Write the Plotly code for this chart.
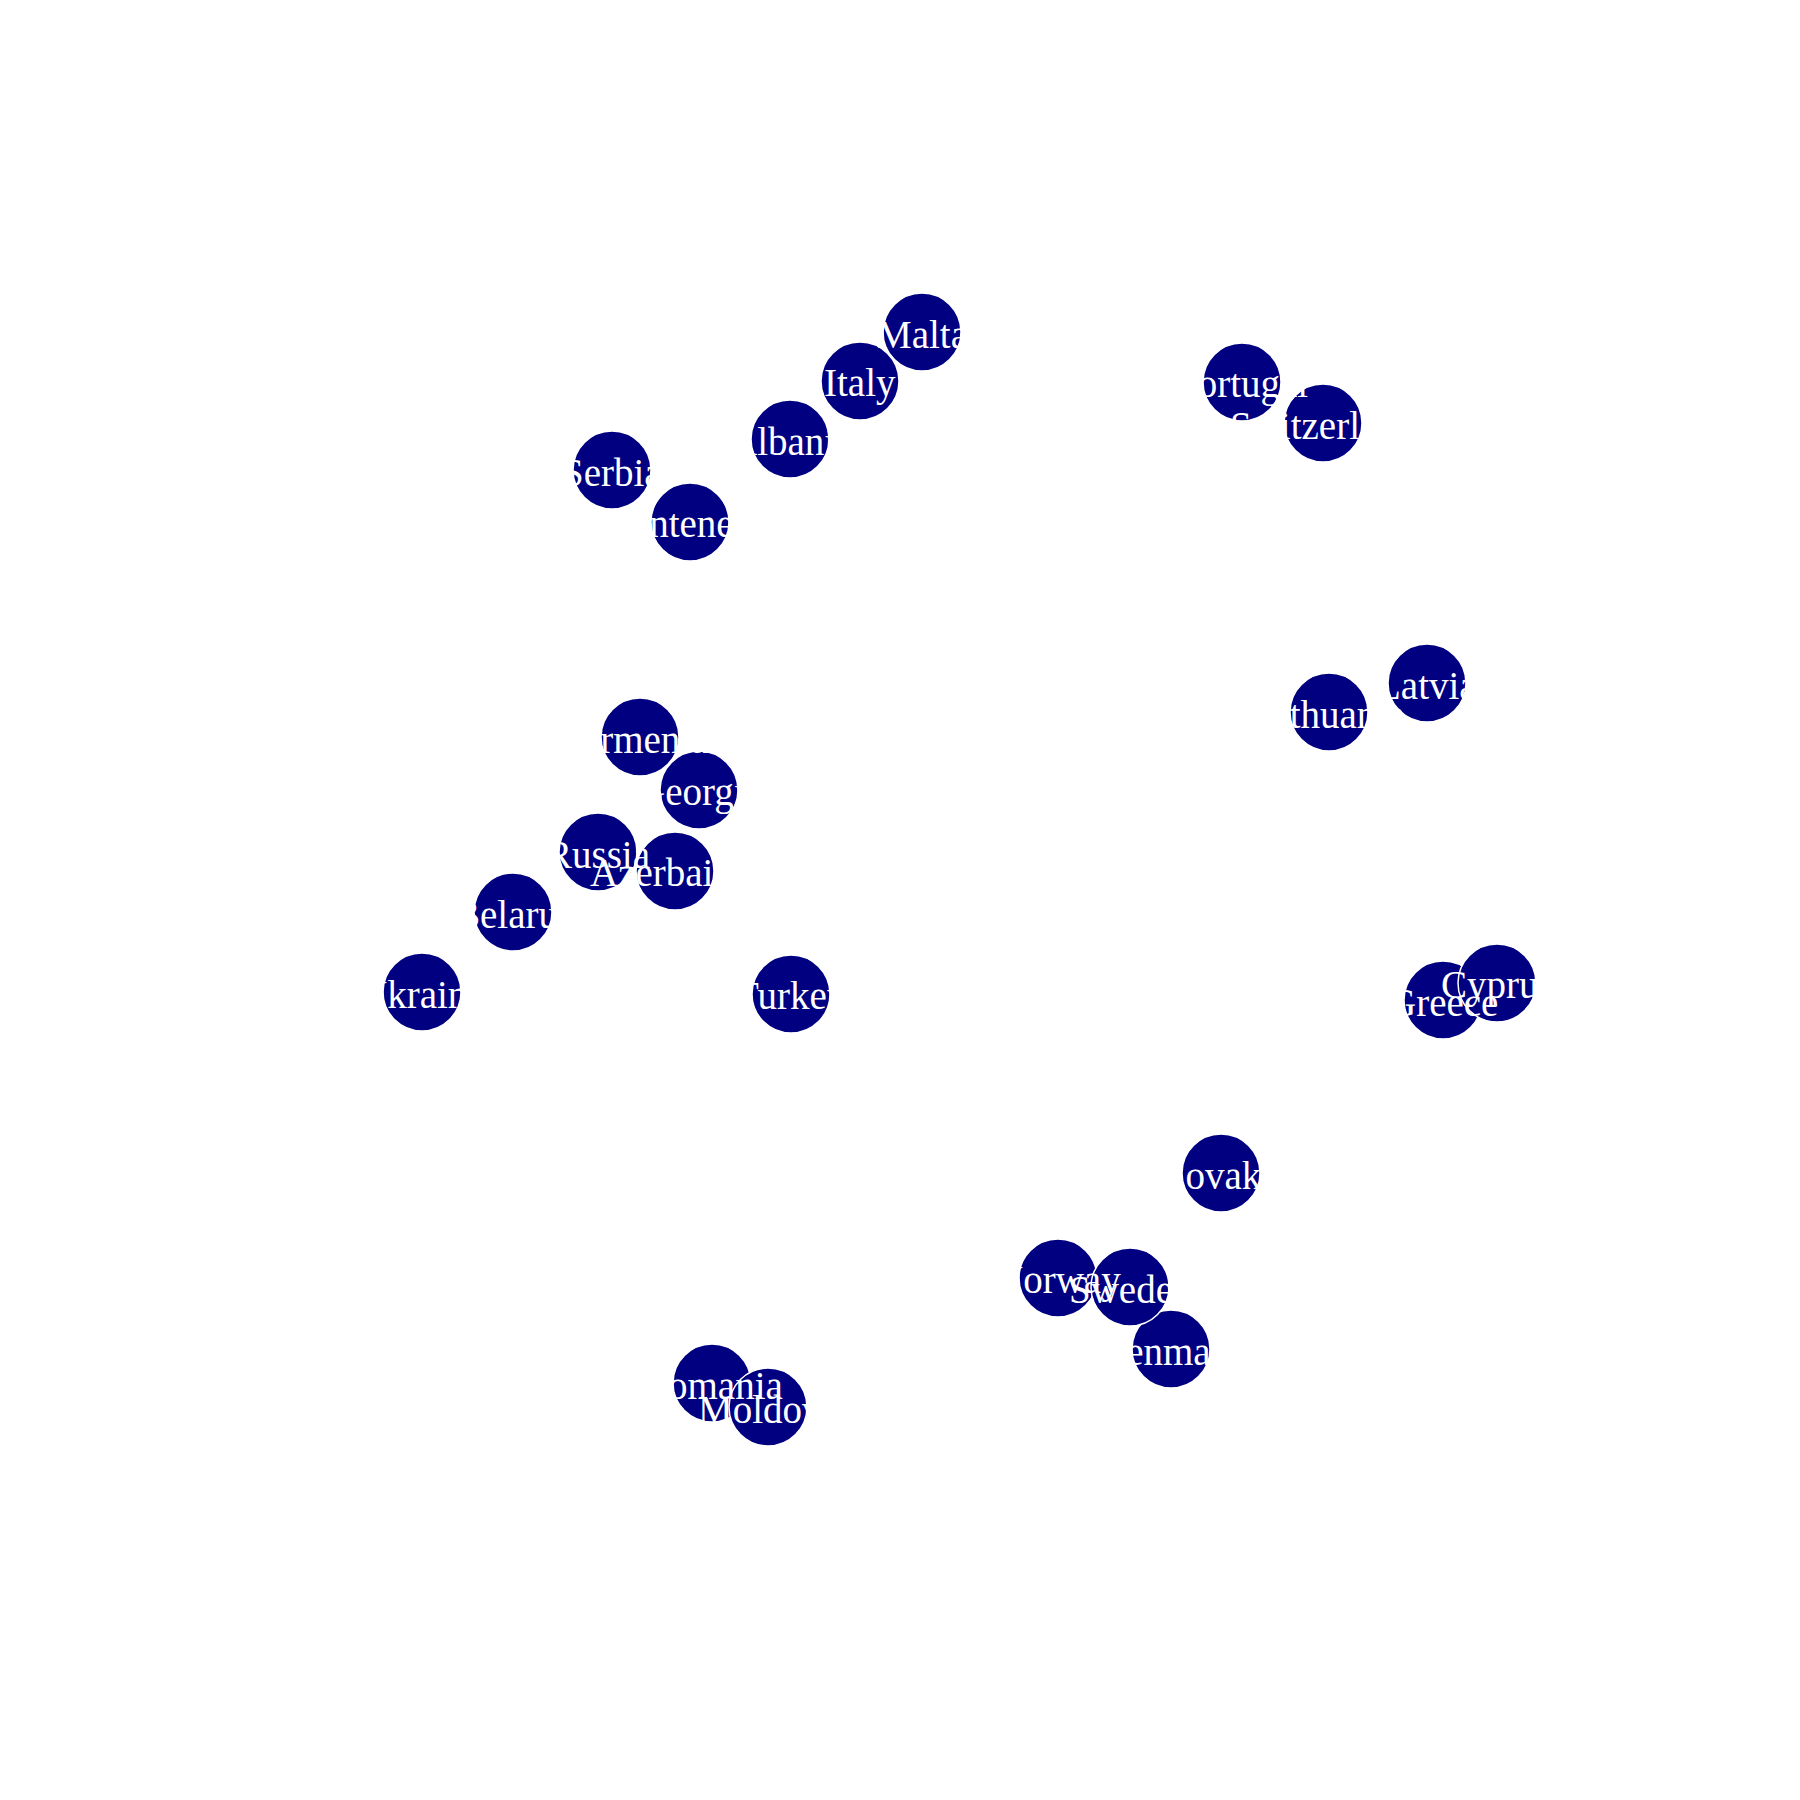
import plotly.graph_objects as go

countries = ["Malta", "Italy", "Albania", "Serbia", "Montenegro",
             "Portugal", "Switzerland", "Latvia", "Lithuania",
             "Armenia", "Georgia", "Russia", "Azerbaijan", "Belarus", "Ukraine", "Turkey",
             "Greece", "Cyprus", "Slovakia", "Norway", "Denmark", "Sweden",
             "Romania", "Moldova"]
pos_x = [914, 852, 782, 604, 682,
         1234, 1315, 1419, 1321,
         632, 691, 590, 667, 505, 414, 783,
         1435, 1489, 1213, 1050, 1163, 1122,
         704, 760]
pos_y = [324, 373, 431, 462, 514,
         374, 415, 675, 704,
         729, 782, 844, 863, 904, 984, 986,
         992, 975, 1165, 1270, 1341, 1279,
         1375, 1399]

fig = go.Figure(go.Scatter(
    x=pos_x, y=pos_y, text=countries, mode="markers",
    marker=dict(size=78, color="#000080", line=dict(color="white", width=1.5)),
    hoverinfo="text", cliponaxis=False,
))
for name, xv, yv in zip(countries, pos_x, pos_y):
    fig.add_annotation(
        x=xv, y=yv, text=name, showarrow=False,
        xanchor="center", yanchor="middle", yshift=-2,
        font=dict(family="Liberation Serif, Times New Roman, serif", size=39, color="white"),
    )
fig.update_layout(
    width=1800, height=1800, margin=dict(l=0, r=0, t=0, b=0),
    paper_bgcolor="white", plot_bgcolor="white", showlegend=False,
    xaxis=dict(range=[0, 1800], visible=False, fixedrange=True),
    yaxis=dict(range=[1800, 0], visible=False, fixedrange=True),
)
fig.write_html("out.html")
